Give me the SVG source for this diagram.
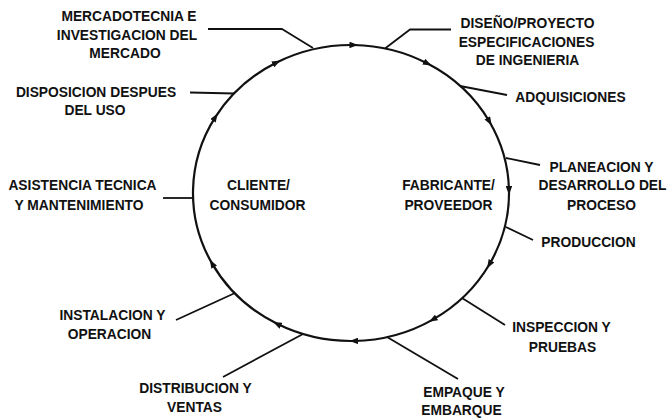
<svg xmlns="http://www.w3.org/2000/svg" width="667" height="419" viewBox="0 0 667 419">
  <style>
    text { font-family: "Liberation Sans", Arial, Helvetica, sans-serif; font-weight: bold; font-size: 13.8px; fill: #111; text-anchor: middle; }
    .ring { fill: none; stroke: #111; stroke-width: 2.2; stroke-linecap: round; }
    .lead { fill: none; stroke: #111; stroke-width: 1.8; stroke-linejoin: round; }
  </style>
  <defs>
    <marker id="tip" viewBox="0 0 8 6" refX="4" refY="3" markerWidth="9" markerHeight="6.5" markerUnits="userSpaceOnUse" orient="auto">
      <path d="M0,0 L8,3 L0,6 Z" fill="#111"/>
    </marker>
  </defs>
  <rect width="667" height="419" fill="#fff"/>

  <g id="connectors">
    <!-- clockwise cycle, one arrowhead at each vertex -->
    <path class="ring" marker-start="url(#tip)" marker-mid="url(#tip)"
      d="M215.3,117.2 A158 148 0 0 1 276.6,62.5 A158 148 0 0 1 353.8,45 A158 148 0 0 1 427.6,63.6 A158 148 0 0 1 489.5,121.7 A158 148 0 0 1 509,190.4 A158 148 0 0 1 489.3,264.5 A158 148 0 0 1 432.8,319.6 A158 148 0 0 1 353.8,341 A158 148 0 0 1 277.1,323.8 A158 148 0 0 1 212,263.4 A158 148 0 0 1 215.3,117.2"/>
    <!-- leader lines from labels to the ring -->
    <polyline class="lead" points="208,29 282,29 313,48"/>
    <polyline class="lead" points="385,48.5 410,29.5 451,29.5"/>
    <line class="lead" x1="190" y1="92.5" x2="234.5" y2="93.5"/>
    <line class="lead" x1="460" y1="86" x2="507" y2="95"/>
    <line class="lead" x1="506" y1="158" x2="540" y2="165"/>
    <line class="lead" x1="163" y1="198" x2="193" y2="198"/>
    <line class="lead" x1="506" y1="227" x2="533" y2="240"/>
    <line class="lead" x1="462" y1="298" x2="505" y2="325"/>
    <line class="lead" x1="387" y1="337" x2="458" y2="379"/>
    <line class="lead" x1="303" y1="334" x2="223" y2="377"/>
    <line class="lead" x1="235" y1="293" x2="176" y2="320"/>
  </g>

  <g id="mercadotecnia">
    <text x="129" y="21">MERCADOTECNIA E</text>
    <text x="127" y="40">INVESTIGACION DEL</text>
    <text x="125" y="58">MERCADO</text>
  </g>
  <g id="diseno">
    <text x="527.5" y="28">DISEÑO/PROYECTO</text>
    <text x="526.5" y="47">ESPECIFICACIONES</text>
    <text x="527.5" y="65">DE INGENIERIA</text>
  </g>
  <g id="disposicion">
    <text x="96" y="97">DISPOSICION DESPUES</text>
    <text x="95" y="115">DEL USO</text>
  </g>
  <g id="adquisiciones">
    <text x="570.5" y="102">ADQUISICIONES</text>
  </g>
  <g id="planeacion">
    <text x="601.5" y="172">PLANEACION Y</text>
    <text x="602.5" y="190">DESARROLLO DEL</text>
    <text x="601.5" y="210">PROCESO</text>
  </g>
  <g id="asistencia">
    <text x="82.5" y="190">ASISTENCIA TECNICA</text>
    <text x="79" y="210">Y MANTENIMIENTO</text>
  </g>
  <g id="cliente">
    <text x="258.5" y="190">CLIENTE/</text>
    <text x="257.5" y="210">CONSUMIDOR</text>
  </g>
  <g id="fabricante">
    <text x="448.5" y="190">FABRICANTE/</text>
    <text x="448.5" y="210">PROVEEDOR</text>
  </g>
  <g id="produccion">
    <text x="588.5" y="247">PRODUCCION</text>
  </g>
  <g id="instalacion">
    <text x="112.5" y="320">INSTALACION Y</text>
    <text x="109.5" y="339">OPERACION</text>
  </g>
  <g id="inspeccion">
    <text x="561.5" y="332">INSPECCION Y</text>
    <text x="562.5" y="352">PRUEBAS</text>
  </g>
  <g id="distribucion">
    <text x="195.5" y="393">DISTRIBUCION Y</text>
    <text x="194.5" y="412">VENTAS</text>
  </g>
  <g id="empaque">
    <text x="464" y="397">EMPAQUE Y</text>
    <text x="461.5" y="415">EMBARQUE</text>
  </g>
</svg>
